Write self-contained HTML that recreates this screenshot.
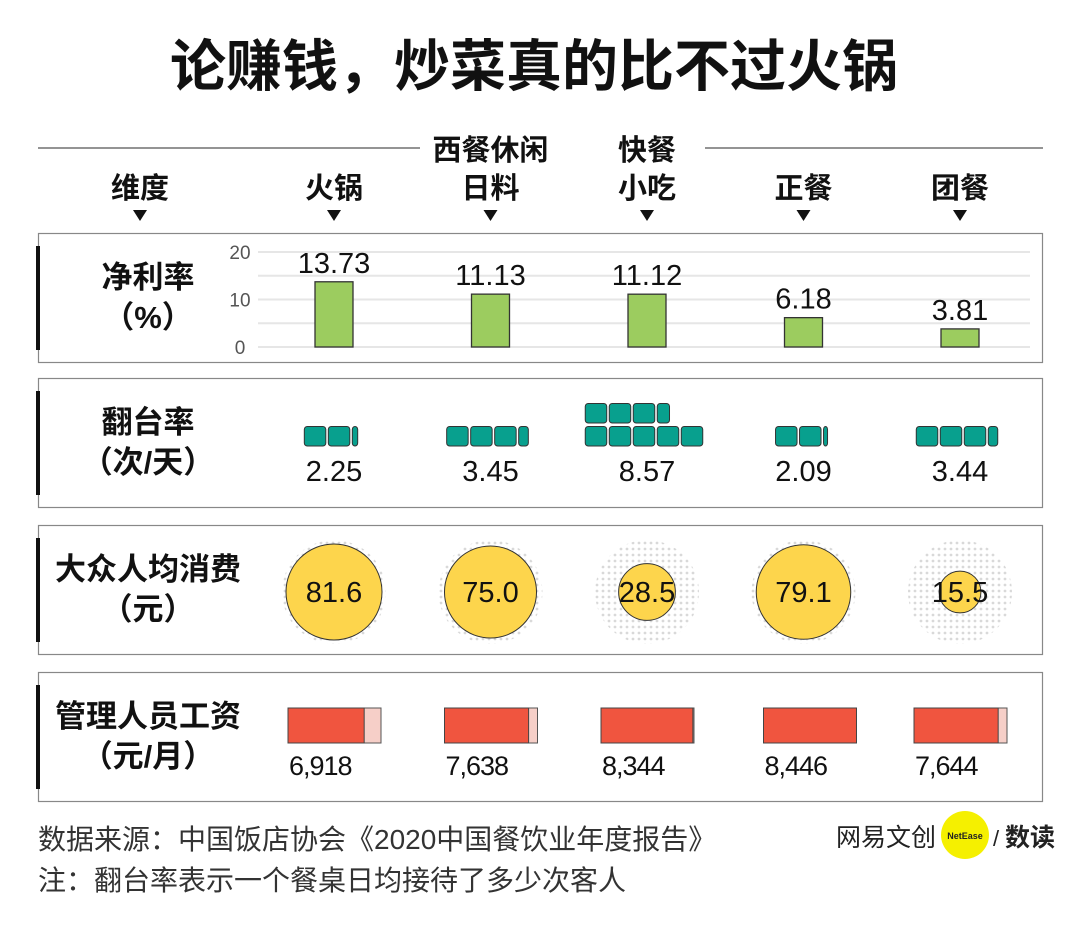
<!DOCTYPE html>
<html><head><meta charset="utf-8">
<style>
body{margin:0;background:#fff;}
svg{display:block;font-family:"Liberation Sans","Noto Sans CJK SC",sans-serif;}
</style></head>
<body>
<svg id="c" width="1080" height="930" viewBox="0 0 1080 930" xmlns="http://www.w3.org/2000/svg">
<defs>
<pattern id="dots" width="6" height="6" patternUnits="userSpaceOnUse"><circle cx="3" cy="3" r="1.4" fill="#d9d9d9"/></pattern>
</defs>
<text x="534" y="86" text-anchor="middle" font-size="56" font-weight="bold" fill="#111">论赚钱，炒菜真的比不过火锅</text>
<line x1="38" y1="148" x2="420" y2="148" stroke="#555" stroke-width="1.2"/>
<line x1="705" y1="148" x2="1043" y2="148" stroke="#555" stroke-width="1.2"/>
<g id="hdr"></g>
<g id="panels"></g>
<g id="marks"></g>
<text x="38" y="849" font-size="28" fill="#333">数据来源：中国饭店协会《2020中国餐饮业年度报告》</text>
<text x="38" y="890" font-size="28" fill="#333">注：翻台率表示一个餐桌日均接待了多少次客人</text>
<g>
<circle cx="965" cy="835" r="24" fill="#f5f000"/>
<text x="836" y="846" font-size="25" fill="#222">网易文创</text>
<text x="965" y="839" font-size="9" font-weight="bold" text-anchor="middle" fill="#222">NetEase</text>
<text x="993" y="846" font-size="22" fill="#222">/</text>
<text x="1005" y="846" font-size="25" font-weight="bold" fill="#222">数读</text>
</g>
</svg>
<script>
const categories = ["火锅","西餐休闲日料","快餐小吃","正餐","团餐"];
const headerLine1 = ["","西餐休闲","快餐","",""];
const headerLine2 = ["火锅","日料","小吃","正餐","团餐"];
const profitRate = [13.73,11.13,11.12,6.18,3.81];
const profitTicks = [0,10,20];
const turnover = [2.25,3.45,8.57,2.09,3.44];
const spending = [81.6,75.0,28.5,79.1,15.5];
const salary = [6918,7638,8344,8446,7644];

const NS="http://www.w3.org/2000/svg";
const svg=document.getElementById('c');
function mk(tag,attrs,parent,text){const e=document.createElementNS(NS,tag);for(const k in attrs)e.setAttribute(k,attrs[k]);if(text!==undefined)e.textContent=text;(parent||svg).appendChild(e);return e;}
const hdr=document.getElementById('hdr'),panels=document.getElementById('panels'),marks=document.getElementById('marks');
const colX=i=>334+i*156.5;

// header
let t=mk('text',{x:140,y:198,'text-anchor':'middle','font-size':29,'font-weight':'bold',fill:'#111'},hdr,'维度');


let tri=mk('path',{d:'M133 210 L147 210 L140 221 Z',fill:'#111'},hdr);


categories.forEach((c,i)=>{
  const x=colX(i);
  if(headerLine1[i]){const a=mk('text',{x:x,y:160,'text-anchor':'middle','font-size':29,'font-weight':'bold',fill:'#111'},hdr,headerLine1[i]);
  
  }
  const b=mk('text',{x:x,y:198,'text-anchor':'middle','font-size':29,'font-weight':'bold',fill:'#111'},hdr,headerLine2[i]);
  
  
  const p=mk('path',{d:`M${x-7} 210 L${x+7} 210 L${x} 221 Z`,fill:'#111'},hdr);
  
  
});

// panels
const pan=[[233,"净利率","（%）"],[378,"翻台率","（次/天）"],[525,"大众人均消费","（元）"],[672,"管理人员工资","（元/月）"]];
const panNames=['profit-panel','turnover-panel','spending-panel','salary-panel'];
pan.forEach((p,k)=>{
  const y=p[0];
  const r=mk('rect',{x:38.5,y:y+0.5,width:1004,height:129,fill:'none',stroke:'#888','stroke-width':1.2},panels);
  
  
  const l=mk('rect',{x:36,y:y+13,width:4,height:104,fill:'#111'},panels);
  
  
  const a=mk('text',{x:148,y:y+55,'text-anchor':'middle','font-size':31,'font-weight':'bold',fill:'#111'},panels,p[1]);
  
  
  const b=mk('text',{x:148,y:y+95,'text-anchor':'middle','font-size':31,'font-weight':'bold',fill:'#111'},panels,p[2]);
  
  
});

// profit bar chart
const base=347,pxU=4.75,yP=v=>base-v*pxU;
for(let g=0;g<=20;g+=5){const gl=mk('line',{x1:258,x2:1030,y1:yP(g),y2:yP(g),stroke:'#e6e6e6','stroke-width':2},marks);

}
profitTicks.forEach(v=>{const tk=mk('text',{x:240,y:yP(v)+7,'text-anchor':'middle','font-size':19,fill:'#555'},marks,String(v));

});
profitRate.forEach((v,i)=>{
  const x=colX(i);
  const r=mk('rect',{x:x-19,y:yP(v),width:38,height:v*pxU,fill:'#9ccc5f',stroke:'#333','stroke-width':1.3},marks);
  
  
  const l=mk('text',{x:x,y:yP(v)-9,'text-anchor':'middle','font-size':29,fill:'#111'},marks,v.toFixed(2));
  
  
});

// turnover squares
const sq=21.5,gap=2.5,rowBottom=446,sh=19.5;
turnover.forEach((v,i)=>{
  const cx=colX(i);
  const rows=[];let rem=v;
  while(rem>0){rows.push(Math.min(5,rem));rem-=5;}
  const maxW=Math.min(5,v);
  const fullW=Math.ceil(maxW)*(sq+gap)-gap-(Math.ceil(maxW)-maxW)*sq;
  const left=cx-fullW/2-(v>5?3:3);
  rows.forEach((n,r)=>{
    const y=rowBottom-sh-r*(sh+3.5);
    let k=0;
    while(n>0){const w=Math.min(1,n)*sq;
      const s=mk('rect',{x:left+k*(sq+gap),y:y,width:Math.max(w,4),height:sh,rx:3,fill:'#08a08e',stroke:'#333','stroke-width':1},marks);
      
      
      n-=1;k++;}
  });
  const l=mk('text',{x:cx,y:481,'text-anchor':'middle','font-size':29,fill:'#111'},marks,v.toFixed(2));
  
  
});

// spending circles
const maxSp=81.6,maxR=48,cy=592;
spending.forEach((v,i)=>{
  const cx=colX(i);
  const bg=mk('circle',{cx:cx,cy:cy,r:52,fill:'url(#dots)'},marks);
  
  
  const c=mk('circle',{cx:cx,cy:cy,r:maxR*Math.sqrt(v/maxSp),fill:'#fdd54c',stroke:'#333','stroke-width':1},marks);
  
  
  const l=mk('text',{x:cx,y:cy+10,'text-anchor':'middle','font-size':29,fill:'#111'},marks,v.toFixed(1));
  
  
});

// salary bars
const salMax=8446,salW=93,salY=708,salH=35;
salary.forEach((v,i)=>{
  const x=colX(i)-46+(i===3?6:0);
  const bg=mk('rect',{x:x,y:salY,width:salW,height:salH,fill:'#f6cfc8',stroke:'#555','stroke-width':1},marks);
  
  
  const r=mk('rect',{x:x,y:salY,width:v/salMax*salW,height:salH,fill:'#f0553f',stroke:'#444','stroke-width':1},marks);
  
  
  const l=mk('text',{x:x+1,y:775,'font-size':27,fill:'#111','letter-spacing':-1},marks,v.toLocaleString('en-US'));
  
  
});
</script>
</body></html>
